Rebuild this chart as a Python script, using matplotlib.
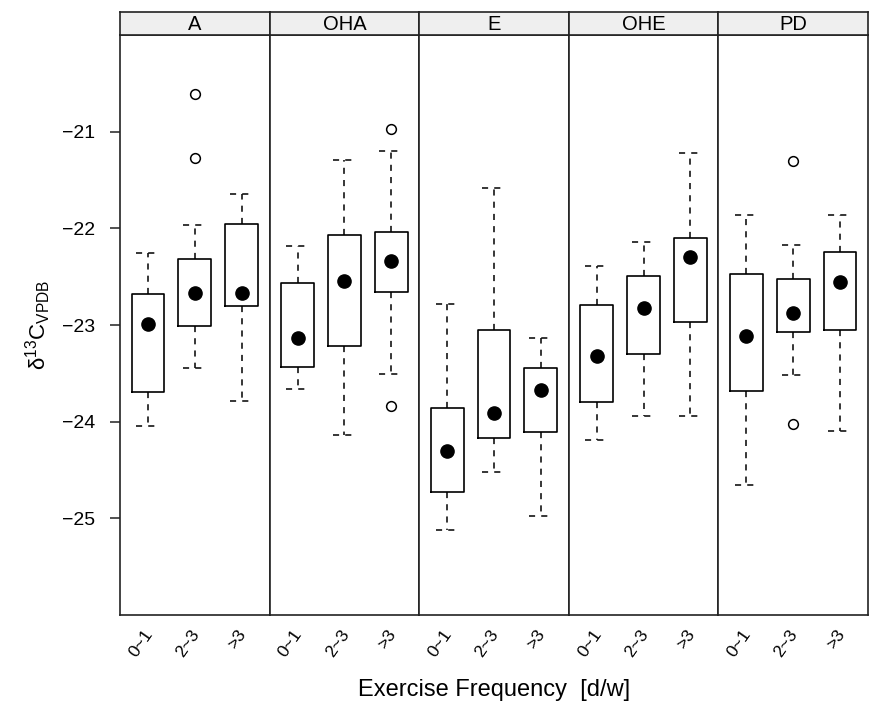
import matplotlib
matplotlib.use("Agg")
import matplotlib.pyplot as plt

plt.rcParams['font.family'] = ['Liberation Sans', 'DejaVu Sans']
plt.rcParams['mathtext.fontset'] = 'custom'
plt.rcParams['mathtext.rm'] = 'Liberation Sans'
plt.rcParams['mathtext.it'] = 'Liberation Sans:italic'

groups = ["A", "OHA", "E", "OHE", "PD"]
freq_labels = ["0~1", "2~3", ">3"]

# five-number summaries, one row per group, one entry per frequency class
medians = [[-22.99, -22.67, -22.67],
           [-23.13, -22.54, -22.34],
           [-24.30, -23.91, -23.67],
           [-23.32, -22.82, -22.30],
           [-23.11, -22.88, -22.56]]
q1 = [[-23.69, -23.01, -22.80],
      [-23.43, -23.22, -22.66],
      [-24.73, -24.17, -24.11],
      [-23.80, -23.30, -22.97],
      [-23.68, -23.07, -23.05]]
q3 = [[-22.68, -22.32, -21.96],
      [-22.57, -22.07, -22.04],
      [-23.86, -23.05, -23.44],
      [-22.79, -22.49, -22.10],
      [-22.47, -22.52, -22.24]]
whis_lo = [[-24.04, -23.44, -23.79],
           [-23.66, -24.14, -23.51],
           [-25.12, -24.52, -24.98],
           [-24.19, -23.94, -23.94],
           [-24.66, -23.52, -24.10]]
whis_hi = [[-22.26, -21.97, -21.64],
           [-22.18, -21.29, -21.20],
           [-22.78, -21.58, -23.13],
           [-22.39, -22.14, -21.22],
           [-21.86, -22.17, -21.86]]
outliers = [[[], [-20.61, -21.27], []],
            [[], [], [-20.97, -23.84]],
            [[], [], []],
            [[], [], []],
            [[], [-21.30, -24.02], []]]

W, H = 869, 716
fig = plt.figure(figsize=(W / 100, H / 100), dpi=100)

left_px, right_px = 120, 868
top_px, bottom_px = 35, 615
strip_h = 23
pw = (right_px - left_px) / len(groups)

dash = (0, (4, 4))
frame_col = '#222222'
positions = [1, 2, 3]

for g, name in enumerate(groups):
    x0 = (left_px + g * pw) / W
    ax = fig.add_axes([x0, 1 - bottom_px / H, pw / W, (bottom_px - top_px) / H])
    stats = []
    for k in range(3):
        stats.append(dict(med=medians[g][k], q1=q1[g][k], q3=q3[g][k],
                          whislo=whis_lo[g][k], whishi=whis_hi[g][k],
                          fliers=outliers[g][k]))
    ax.bxp(stats, positions=positions, widths=0.7, capwidths=0.5,
           showfliers=True,
           boxprops=dict(color='black', linewidth=1.2),
           whiskerprops=dict(color='black', linewidth=1.1, linestyle=dash),
           capprops=dict(color='black', linewidth=1.1, linestyle=dash),
           medianprops=dict(linewidth=0),
           flierprops=dict(marker='o', markersize=7, markerfacecolor='none',
                           markeredgecolor='black', markeredgewidth=1.1))
    ax.plot(positions, medians[g], 'o', color='black', markersize=9.5, zorder=5)

    ax.set_xlim(0.4, 3.6)
    ax.set_ylim(-26, -20)
    ax.set_xticks(positions)
    ax.set_xticklabels([])
    ax.tick_params(axis='x', length=0)
    for k, lab in enumerate(freq_labels):
        ax.annotate(lab, xy=(positions[k], 0), xycoords=('data', 'axes fraction'),
                    xytext=(1, -12), textcoords='offset points',
                    rotation=55, rotation_mode='anchor', ha='right', va='center',
                    fontsize=12.5)
    if g == 0:
        ax.set_yticks([-25, -24, -23, -22, -21])
        ax.set_yticklabels(['\u221225', '\u221224', '\u221223', '\u221222', '\u221221'])
        ax.tick_params(axis='y', direction='out', length=7, width=1.1,
                       color=frame_col, labelsize=14, pad=11)
    else:
        ax.set_yticks([])
    for sp in ax.spines.values():
        sp.set_color(frame_col)
        sp.set_linewidth(1.2)

    # strip on top of each panel
    sax = fig.add_axes([x0, 1 - top_px / H, pw / W, strip_h / H])
    sax.set_facecolor('#efefef')
    sax.set_xticks([])
    sax.set_yticks([])
    for sp in sax.spines.values():
        sp.set_color(frame_col)
        sp.set_linewidth(1.2)
    sax.text(0.5, 0.45, name, ha='center', va='center', fontsize=14.5,
             transform=sax.transAxes)

fig.text(38 / W, 1 - 325 / H, 'δ$^{13}$C$_{\\mathrm{VPDB}}$',
         rotation=90, ha='center', va='center', fontsize=16)
fig.text((left_px + right_px) / 2 / W, 1 - 690 / H, 'Exercise Frequency  [d/w]',
         ha='center', va='center', fontsize=17)

fig.savefig('out.png', dpi=100, facecolor='white')
